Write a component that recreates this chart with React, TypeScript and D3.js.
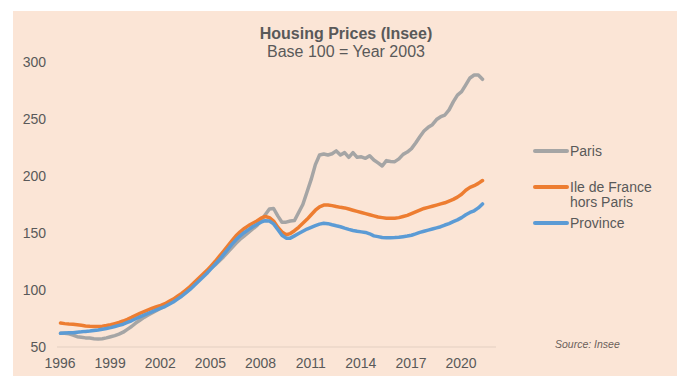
"use client"

import * as React from "react"
import * as d3 from "d3"

// quarterly observations, 1996 Q1 .. 2021 Q2
const startYear = 1996
const quarters = d3.range(102).map((i) => startYear + i / 4)

const paris = [
  62, 62, 61.5, 60.5,
  59, 58.5, 58, 57.8,
  57.3, 57, 57.3, 58,
  59, 60, 61.3, 63,
  65.5, 68, 71, 73.5,
  76, 78, 80, 82,
  84, 86, 88, 90.5,
  93, 96, 99, 102.5,
  105.5, 109, 112.5, 116,
  119, 122, 125.5, 129,
  133, 137, 141, 144.5,
  147.5, 150.5, 153.5, 156.5,
  161, 166, 171, 171.5,
  165, 159.5, 159.5, 160.5,
  161, 168, 175, 186,
  197, 210, 218.4, 219.3,
  218.4, 219.5, 222, 218.4,
  220.5, 216.4, 220.5, 216.4,
  216.8, 215.5, 217.8, 214,
  211.5, 208.8, 213.5, 212.8,
  212.6, 215, 219, 221,
  224, 229, 234.5, 239.5,
  242.7, 245, 249.5, 252,
  253.5, 258, 265, 271,
  274, 280, 286, 288.6,
  288.6, 284.8,
]

const ileDeFrance = [
  71, 70.5, 70.2, 70,
  69.5, 69, 68.5, 68.2,
  68, 68, 68.3, 68.8,
  69.5, 70.5, 71.5, 72.8,
  74.3, 76, 77.8, 79.5,
  81, 82.5, 84, 85.3,
  86.5, 88, 90, 92,
  94.5, 97, 100, 103,
  106.5, 110, 113.5, 117,
  121, 125, 129.5, 134,
  138.5, 143, 147.5, 151,
  154, 156.5, 158.5, 160.5,
  163, 164.5, 163.5, 160.5,
  155, 151, 148.5, 149.5,
  152, 155, 158.5, 162,
  166, 170, 173, 174.5,
  174.6, 174, 173.2, 172.5,
  172, 171, 170, 169,
  168, 167, 166, 165,
  164, 163.5, 163, 162.9,
  163, 163.5, 164.5, 165.5,
  167, 168.5, 170, 171.5,
  172.5, 173.5, 174.5, 175.5,
  176.5, 178, 179.5, 181.5,
  184, 187.5, 190, 191.5,
  193.5, 196,
]

const province = [
  62, 62.2, 62.4, 62.6,
  63, 63.3, 63.7, 64,
  64.5, 65, 65.6, 66.2,
  67, 68, 69, 70,
  71.5, 73, 74.8, 76.5,
  78, 79.5, 81, 82.5,
  84, 85.5, 87.5, 89.5,
  92, 94.5, 97.5, 100.5,
  104, 107.5, 111, 114.5,
  118.5, 122.5, 126.5, 131,
  135.5, 140, 144, 147.5,
  150.5, 153, 155.5, 157.5,
  159.5, 160.8, 160.5, 158,
  153, 148, 145.5, 145.5,
  147.5, 149.5, 151.5, 153.5,
  155, 156.5, 157.8, 158.5,
  158.2, 157.2, 156.3, 155.5,
  154.3, 153.2, 152.2, 151.5,
  151, 150.5, 149.3, 147.5,
  146.8, 146, 145.8, 145.9,
  146, 146.2, 146.8, 147.3,
  148, 149.2, 150.5, 151.5,
  152.5, 153.5, 154.5, 155.5,
  157, 158.3, 160, 161.5,
  163.5, 166, 168, 169.5,
  172, 175.5,
]

const seriesNames = ["Paris", "Ile de France hors Paris", "Province"]
const seriesColors = ["#A5A5A5", "#ED7D31", "#5B9BD5"]
const yearTicks = [1996, 1999, 2002, 2005, 2008, 2011, 2014, 2017, 2020]
const valueTicks = [50, 100, 150, 200, 250, 300]

const titleText = "Housing Prices (Insee)"
const subtitleText = "Base 100 = Year 2003"
const sourceText = "Source: Insee"

const textColor = "#595959"
const font = "'Liberation Sans', Arial, sans-serif"

function render(svgRef: React.RefObject<SVGSVGElement>) {
  const width = 690
  const height = 386

  const svg = d3.select(svgRef.current).attr("width", width).attr("height", height)
  svg.selectAll("*").remove()

  // peach panel
  svg
    .append("rect")
    .attr("x", 13)
    .attr("y", 11)
    .attr("width", 664)
    .attr("height", 365)
    .attr("fill", "#FBE5D6")

  const xScale = d3.scaleLinear().domain([1996, 2021.25]).range([60.5, 482.5])
  const yScale = d3.scaleLinear().domain([50, 300]).range([347, 62])

  // title
  svg
    .append("text")
    .attr("x", 346)
    .attr("y", 39)
    .attr("text-anchor", "middle")
    .attr("font-family", font)
    .attr("font-size", 16)
    .attr("font-weight", "bold")
    .attr("fill", textColor)
    .text(titleText)

  svg
    .append("text")
    .attr("x", 346)
    .attr("y", 57)
    .attr("text-anchor", "middle")
    .attr("font-family", font)
    .attr("font-size", 16)
    .attr("fill", textColor)
    .text(subtitleText)

  // x axis line + labels
  svg
    .append("line")
    .attr("x1", 57)
    .attr("x2", 496)
    .attr("y1", yScale(50))
    .attr("y2", yScale(50))
    .attr("stroke", "#E3CFC1")
    .attr("stroke-width", 1)

  svg
    .selectAll(".xLabel")
    .data(yearTicks)
    .join("text")
    .attr("class", "xLabel")
    .attr("x", (d) => xScale(d) - 0.5)
    .attr("y", 368)
    .attr("text-anchor", "middle")
    .attr("font-family", font)
    .attr("font-size", 14)
    .attr("fill", textColor)
    .text((d) => d)

  svg
    .selectAll(".yLabel")
    .data(valueTicks)
    .join("text")
    .attr("class", "yLabel")
    .attr("x", 46)
    .attr("y", (d) => yScale(d) + 5)
    .attr("text-anchor", "end")
    .attr("font-family", font)
    .attr("font-size", 14)
    .attr("fill", textColor)
    .text((d) => d)

  const line = d3
    .line<number>()
    .x((_, i) => xScale(quarters[i]))
    .y((d) => yScale(d))
    .curve(d3.curveLinear)

  svg
    .selectAll(".line")
    .data([paris, ileDeFrance, province])
    .join("path")
    .attr("class", "line")
    .attr("d", (d) => line(d))
    .attr("fill", "none")
    .attr("stroke", (_, i) => seriesColors[i])
    .attr("stroke-width", 3.5)
    .attr("stroke-linejoin", "round")
    .attr("stroke-linecap", "round")

  // legend
  const legendY = [151, 187, 223]
  const legend = svg
    .selectAll(".legend")
    .data(seriesNames)
    .join("g")
    .attr("class", "legend")
    .attr("transform", (_, i) => `translate(535,${legendY[i]})`)

  legend
    .append("line")
    .attr("x1", 0)
    .attr("x2", 32)
    .attr("stroke", (_, i) => seriesColors[i])
    .attr("stroke-width", 4)
    .attr("stroke-linecap", "round")

  legend
    .append("text")
    .attr("x", 35)
    .attr("y", 5)
    .attr("font-family", font)
    .attr("font-size", 14)
    .attr("fill", textColor)
    .each(function (d) {
      const t = d3.select(this)
      if (d === "Ile de France hors Paris") {
        t.append("tspan").attr("x", 35).attr("dy", 0).text("Ile de France")
        t.append("tspan").attr("x", 35).attr("dy", 15).text("hors Paris")
      } else {
        t.text(d)
      }
    })

  svg
    .append("text")
    .attr("x", 555)
    .attr("y", 348)
    .attr("font-family", font)
    .attr("font-size", 10.5)
    .attr("font-style", "italic")
    .attr("fill", "#6b5f5a")
    .text(sourceText)
}

export default function App(): React.JSX.Element {
  const svg = React.useRef<SVGSVGElement>(null)

  React.useEffect(() => {
    render(svg)
  }, [])

  return (
    <div style={{ position: "absolute", left: 0, top: 0, width: 690, height: 386 }}>
      <svg ref={svg} style={{ display: "block" }}></svg>
    </div>
  )
}
